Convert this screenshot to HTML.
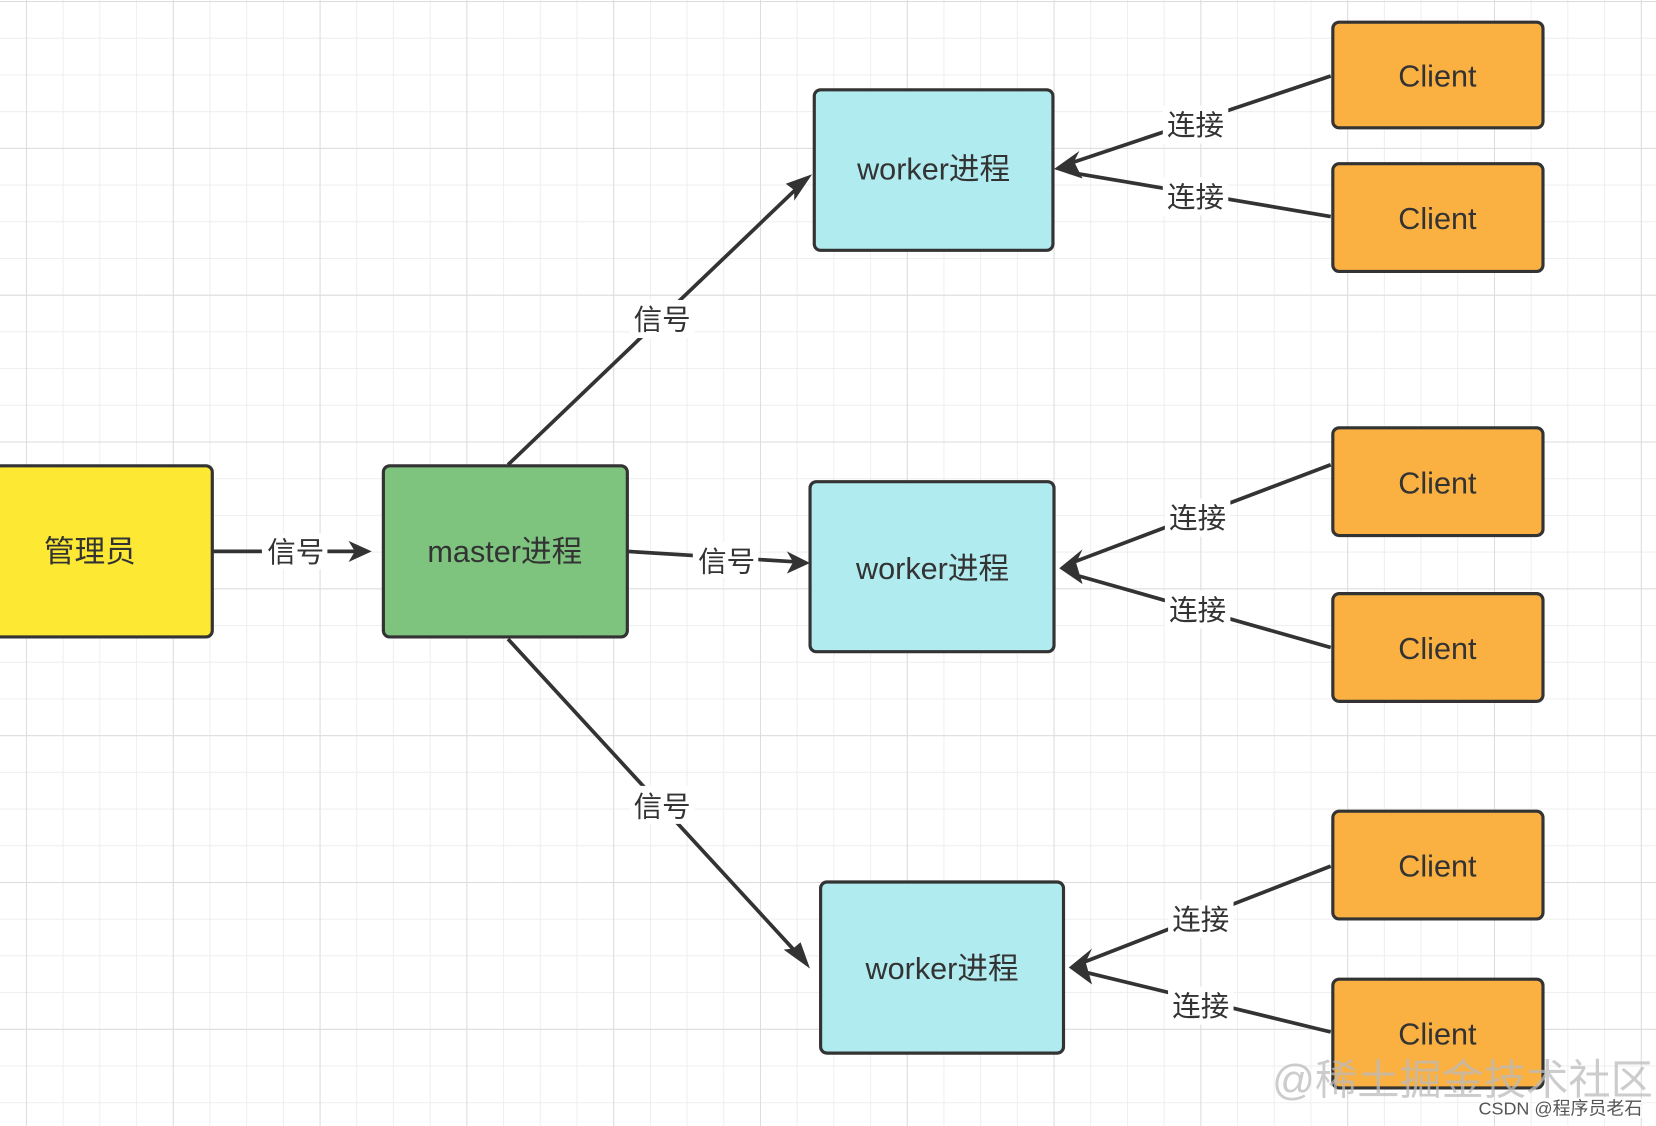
<!DOCTYPE html>
<html><head><meta charset="utf-8"><style>
html,body{margin:0;padding:0;background:#fff;}
svg{display:block}
text{font-family:"Liberation Sans","Noto Sans CJK SC",sans-serif;}
</style></head><body>
<svg width="1656" height="1126" viewBox="0 0 1568 1066" preserveAspectRatio="none" xmlns="http://www.w3.org/2000/svg">
<defs>
<pattern id="g" x="24.6" y="1" width="34.75" height="34.75" patternUnits="userSpaceOnUse">
<path d="M0 0H34.75M0 0V34.75" stroke="#ececec" stroke-width="1.6" fill="none"/>
</pattern>
<pattern id="G" x="24.6" y="1" width="139" height="139" patternUnits="userSpaceOnUse">
<path d="M0 0H139M0 0V139" stroke="#dcdcdc" stroke-width="1.8" fill="none"/>
</pattern>
<marker id="a" viewBox="0 0 10 10" refX="9" refY="5" markerWidth="8" markerHeight="8" orient="auto" markerUnits="userSpaceOnUse">
</marker>
</defs>
<rect width="1568" height="1066" fill="#fff"/>
<rect width="1568" height="1066" fill="url(#g)"/>
<rect width="1568" height="1066" fill="url(#G)"/>

<g stroke="#333" stroke-width="3.5" fill="none">
<line x1="201" y1="522" x2="340" y2="522"/>
<line x1="594" y1="522" x2="755" y2="532"/>
<line x1="481" y1="440" x2="758" y2="175"/>
<line x1="481" y1="605" x2="757" y2="905"/>
<line x1="1260" y1="72" x2="1012" y2="155"/>
<line x1="1260" y1="205" x2="1012" y2="163"/>
<line x1="1260" y1="440" x2="1017" y2="532"/>
<line x1="1260" y1="613" x2="1017" y2="544"/>
<line x1="1260" y1="820" x2="1026" y2="911"/>
<line x1="1260" y1="977" x2="1026" y2="920"/>
</g>
<g fill="#333">
<polygon points="352,522 330,512 336,522 330,532"/>
<polygon points="767,533 745,522 751,532 745,543"/>
<polygon points="769,165 744,174 752,180 752,190"/>
<polygon points="767,917 758,892 751,898 742,899"/>
<polygon points="998,160 1022,143 1017,153 1025,169"/>
<polygon points="1003,538 1025,520 1019,533 1025,553"/>
<polygon points="1012,916 1034,898 1028,911 1034,932"/>
</g>

<g stroke="#333" stroke-width="3">
<rect x="-5" y="441" width="206" height="162" rx="6" fill="#fde834"/>
<rect x="363" y="441" width="231" height="162" rx="6" fill="#7ec47f"/>
<rect x="771" y="85" width="226" height="152" rx="6" fill="#b0ebef"/>
<rect x="767" y="456" width="231" height="161" rx="6" fill="#b0ebef"/>
<rect x="777" y="835" width="230" height="162" rx="6" fill="#b0ebef"/>
<rect x="1262" y="21" width="199" height="100" rx="6" fill="#fbb141"/>
<rect x="1262" y="155" width="199" height="102" rx="6" fill="#fbb141"/>
<rect x="1262" y="405" width="199" height="102" rx="6" fill="#fbb141"/>
<rect x="1262" y="562" width="199" height="102" rx="6" fill="#fbb141"/>
<rect x="1262" y="768" width="199" height="102" rx="6" fill="#fbb141"/>
<rect x="1262" y="927" width="199" height="103" rx="6" fill="#fbb141"/>
</g>

<g font-size="29" fill="#333" text-anchor="middle">
<text x="85" y="532">管理员</text>
<text x="478" y="532">master进程</text>
<text x="884" y="170">worker进程</text>
<text x="883" y="548">worker进程</text>
<text x="892" y="927">worker进程</text>
<text x="1361" y="82">Client</text>
<text x="1361" y="217">Client</text>
<text x="1361" y="467">Client</text>
<text x="1361" y="624">Client</text>
<text x="1361" y="830">Client</text>
<text x="1361" y="989">Client</text>
</g>
<g font-size="27" fill="#333" text-anchor="middle">
<rect x="248" y="505" width="62" height="34" fill="#fff"/><text x="280" y="532">信号</text>
<rect x="656" y="513" width="62" height="34" fill="#fff"/><text x="688" y="541">信号</text>
<rect x="596" y="284" width="62" height="36" fill="#fff"/><text x="627" y="312">信号</text>
<rect x="596" y="744" width="62" height="36" fill="#fff"/><text x="627" y="773">信号</text>
<rect x="1101" y="100" width="62" height="36" fill="#fff"/><text x="1132" y="128">连接</text>
<rect x="1101" y="168" width="62" height="36" fill="#fff"/><text x="1132" y="196">连接</text>
<rect x="1103" y="472" width="62" height="36" fill="#fff"/><text x="1134" y="500">连接</text>
<rect x="1103" y="559" width="62" height="36" fill="#fff"/><text x="1134" y="587">连接</text>
<rect x="1106" y="852" width="62" height="36" fill="#fff"/><text x="1137" y="880">连接</text>
<rect x="1106" y="934" width="62" height="36" fill="#fff"/><text x="1137" y="962">连接</text>
</g>
<text x="1565" y="1036" font-size="40" fill="#bbb" fill-opacity="0.75" text-anchor="end">@稀土掘金技术社区</text>
<text x="1555" y="1055" font-size="17" fill="#fff" stroke="#fff" stroke-width="3" text-anchor="end">CSDN @程序员老石</text>
<text x="1555" y="1055" font-size="17" fill="#555" text-anchor="end">CSDN @程序员老石</text>
</svg>
</body></html>
